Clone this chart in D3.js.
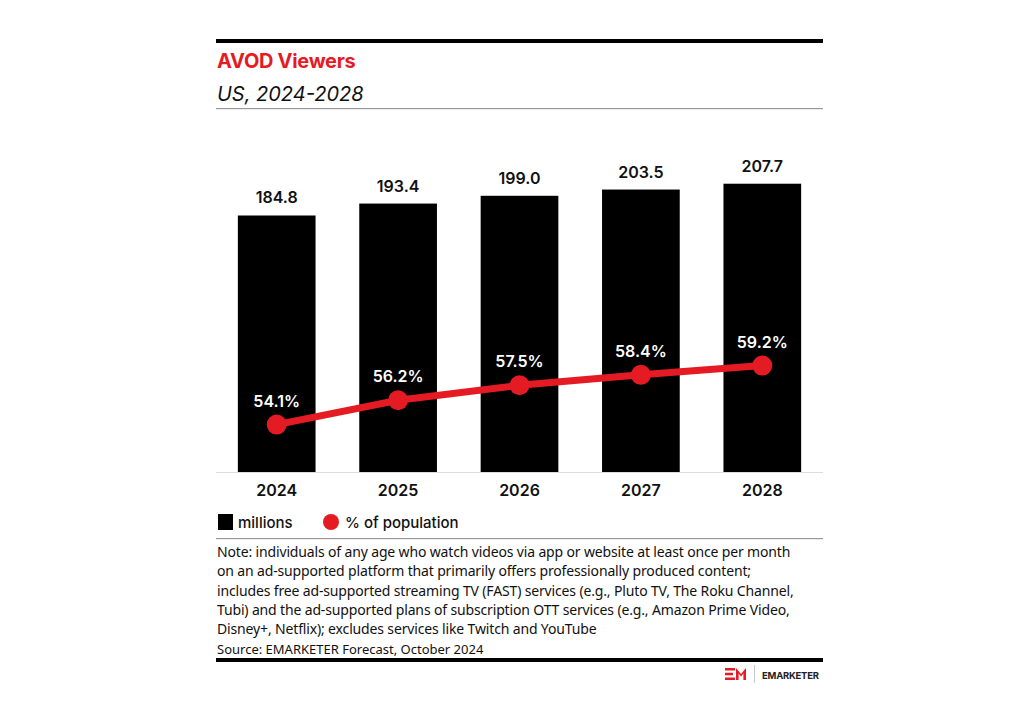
<!DOCTYPE html>
<html>
<head>
<meta charset="utf-8">
<script src="https://cdn.jsdelivr.net/npm/d3@7"></script>
<style>
  body { margin: 0; background: #fff; }
  svg { display: block; font-family: Inter, "Noto Sans", sans-serif; }
</style>
</head>
<body>
<div id="chart"></div>
<script>
const years = ['2024', '2025', '2026', '2027', '2028'];
const viewers = [184.8, 193.4, 199.0, 203.5, 207.7];
const popShare = [54.1, 56.2, 57.5, 58.4, 59.2];
const noteLines = [
    'Note: individuals of any age who watch videos via app or website at least once per month',
    'on an ad-supported platform that primarily offers professionally produced content;',
    'includes free ad-supported streaming TV (FAST) services (e.g., Pluto TV, The Roku Channel,',
    'Tubi) and the ad-supported plans of subscription OTT services (e.g., Amazon Prime Video,',
    'Disney+, Netflix); excludes services like Twitch and YouTube'
];
const sourceText = 'Source: EMARKETER Forecast, October 2024';

const width = 1024;
const height = 713;
const left = 216;
const right = 823;
const red = '#e51b24';

const svg = d3
    .select('#chart')
    .append('svg')
    .attr('width', width)
    .attr('height', height)
    .attr('viewBox', [0, 0, width, height]);

// header
svg.append('rect').attr('x', left).attr('y', 39).attr('width', right - left).attr('height', 4).attr('fill', '#000');
svg.append('text')
    .attr('x', left + 1).attr('y', 68)
    .attr('fill', red).attr('font-size', 20).attr('font-weight', 700)
    .style('letter-spacing', '-0.3px')
    .text('AVOD Viewers');
svg.append('text')
    .attr('x', left + 1).attr('y', 101)
    .attr('fill', '#111').attr('font-size', 20).attr('font-style', 'italic')
    .text('US, 2024-2028');
svg.append('rect').attr('x', left).attr('y', 108).attr('width', right - left).attr('height', 1.2).attr('fill', '#999');

// scales
const x = d3.scaleBand().domain(years).range([left, right]).paddingInner(0.36).paddingOuter(0.18);
const y = d3.scaleLinear().domain([0, 250]).range([472, 125]);
const y2 = d3.scaleLinear().domain([50, 80]).range([472, 125]);

svg.append('g')
    .selectAll('rect')
    .data(years)
    .join('rect')
    .attr('x', (d) => x(d))
    .attr('y', (d, i) => y(viewers[i]))
    .attr('width', x.bandwidth())
    .attr('height', (d, i) => y(0) - y(viewers[i]))
    .attr('fill', '#000');

svg.append('g')
    .selectAll('text')
    .data(years)
    .join('text')
    .attr('x', (d) => x(d) + x.bandwidth() / 2)
    .attr('y', (d, i) => y(viewers[i]) - 12)
    .attr('text-anchor', 'middle')
    .attr('font-size', 16).attr('font-weight', 600).attr('fill', '#111')
    .text((d, i) => viewers[i].toFixed(1));

// baseline + x axis labels
svg.append('rect').attr('x', left).attr('y', 472).attr('width', right - left).attr('height', 1).attr('fill', '#ddd');
const xAxis = svg.append('g')
    .attr('transform', 'translate(0,472)')
    .call(d3.axisBottom(x).tickSize(0).tickPadding(13));
xAxis.select('.domain').remove();
xAxis.selectAll('text')
    .attr('font-family', 'Inter, "Noto Sans", sans-serif')
    .attr('font-size', 16).attr('font-weight', 600).attr('fill', '#111');

// line
const line = d3.line()
    .x((d, i) => x(years[i]) + x.bandwidth() / 2)
    .y((d) => y2(d));

svg.append('path')
    .datum(popShare)
    .attr('d', line)
    .attr('fill', 'none')
    .attr('stroke', red)
    .attr('stroke-width', 7);

svg.append('g')
    .selectAll('circle')
    .data(popShare)
    .join('circle')
    .attr('cx', (d, i) => x(years[i]) + x.bandwidth() / 2)
    .attr('cy', (d) => y2(d))
    .attr('r', 10)
    .attr('fill', red);

svg.append('g')
    .selectAll('text')
    .data(popShare)
    .join('text')
    .attr('x', (d, i) => x(years[i]) + x.bandwidth() / 2)
    .attr('y', (d) => y2(d) - 18)
    .attr('text-anchor', 'middle')
    .attr('font-size', 16).attr('font-weight', 600).attr('fill', '#fff')
    .text((d) => d.toFixed(1) + '%');

// legend
svg.append('rect').attr('x', 218).attr('y', 514).attr('width', 15).attr('height', 16).attr('fill', '#000');
svg.append('text').attr('x', 238).attr('y', 528).attr('font-size', 15).attr('font-weight', 500).attr('fill', '#111').text('millions');
svg.append('circle').attr('cx', 331).attr('cy', 522).attr('r', 8).attr('fill', red);
svg.append('text').attr('x', 345).attr('y', 528).attr('font-size', 15).attr('font-weight', 500).attr('fill', '#111').text('% of population');
svg.append('rect').attr('x', left).attr('y', 538).attr('width', right - left).attr('height', 1.2).attr('fill', '#999');

// note + source
svg.append('g')
    .selectAll('text')
    .data(noteLines)
    .join('text')
    .attr('x', left + 1)
    .attr('y', (d, i) => 557 + i * 19.3)
    .attr('font-size', 14).attr('fill', '#111')
    .style('font-family', '"Noto Sans", sans-serif')
    .style('letter-spacing', '-0.15px')
    .text((d) => d);
svg.append('text')
    .attr('x', left + 1).attr('y', 654)
    .attr('font-size', 13).attr('fill', '#111')
    .style('font-family', '"Noto Sans", sans-serif')
    .text(sourceText);

svg.append('rect').attr('x', left).attr('y', 658).attr('width', right - left).attr('height', 4).attr('fill', '#000');

// logo
const logo = svg.append('g').attr('transform', 'translate(725,668)');
logo.append('path')
    .attr('d', 'M0,0 H10 V2.6 H0 Z M0,4.7 H8 V7.3 H0 Z M0,9.4 H10 V12 H0 Z M11,12 V0 L16,6 L21,0 V12 H18.4 V5.6 L16,8.6 L13.6,5.6 V12 Z')
    .attr('fill', red);
logo.append('rect').attr('x', 29).attr('y', -3).attr('width', 0.8).attr('height', 18).attr('fill', '#bbb');
logo.append('text')
    .attr('x', 37).attr('y', 10.5)
    .attr('font-size', 9.5).attr('font-weight', 700).attr('fill', '#222')
    .attr('textLength', 57).attr('lengthAdjust', 'spacing')
    .text('EMARKETER');
</script>
</body>
</html>
